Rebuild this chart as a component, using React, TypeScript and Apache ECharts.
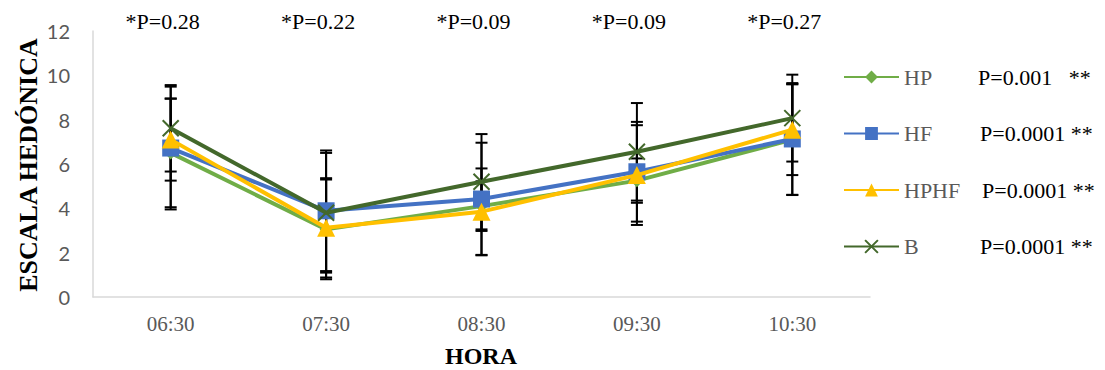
import React, { useEffect, useRef } from "react";
import * as echarts from "echarts";

const categories = ["06:30", "07:30", "08:30", "09:30", "10:30"];
const seriesNames = ["HP", "HF", "HPHF", "B"];
const hpValues = [6.5, 3.05, 4.1, 5.25, 7.1];
const hfValues = [6.72, 3.89, 4.42, 5.65, 7.13];
const hphfValues = [7.1, 3.12, 3.85, 5.5, 7.55];
const bValues = [7.61, 3.8, 5.2, 6.55, 8.07];
const hpErrors = [2.45, 2.25, 1.12, 1.0, 2.5];
const hfErrors = [2.77, 2.72, 2.54, 2.25, 2.52];
const hphfErrors = [1.85, 2.24, 1.95, 2.25, 2.05];
const bErrors = [1.95, 2.7, 2.15, 2.2, 1.96];
const topPLabels = ["*P=0.28", "*P=0.22", "*P=0.09", "*P=0.09", "*P=0.27"];
const legendPLabels = ["P=0.001   **", "P=0.0001 **", "P=0.0001 **", "P=0.0001 **"];
const yTicks = { min: 0, max: 12, interval: 2 };

const colors = ["#70ad47", "#4472c4", "#ffc000", "#43682b"];
const symbols = ["diamond", "rect", "triangle", "path://M0,0L10,10M10,0L0,10"];
const symbolSizes = [13, 17, 18, 16];
const SERIF = "'Liberation Serif', 'Times New Roman', serif";

export default function App() {
  const ref = useRef<HTMLDivElement>(null);
  useEffect(() => {
    if (!ref.current) return;
    const chart = echarts.init(ref.current, null, { renderer: "svg" });
    const values = [hpValues, hfValues, hphfValues, bValues];
    const errors = [hpErrors, hfErrors, hphfErrors, bErrors];

    const errSeries = values.map((vals, si) => ({
      type: "custom",
      name: "err" + si,
      z: 1,
      silent: true,
      data: vals.map((v, i) => [i, v - errors[si][i], v + errors[si][i]]),
      encode: { x: 0, y: [1, 2] },
      renderItem: (params: any, api: any) => {
        const x = api.value(0);
        const lo = api.coord([x, api.value(1)]);
        const hi = api.coord([x, api.value(2)]);
        const hw = 6;
        const st = { stroke: "#000", lineWidth: 2 };
        return {
          type: "group",
          children: [
            { type: "line", shape: { x1: lo[0], y1: lo[1], x2: hi[0], y2: hi[1] }, style: st },
            { type: "line", shape: { x1: lo[0] - hw, y1: lo[1], x2: lo[0] + hw, y2: lo[1] }, style: st },
            { type: "line", shape: { x1: hi[0] - hw, y1: hi[1], x2: hi[0] + hw, y2: hi[1] }, style: st },
          ],
        };
      },
    }));

    const lineSeries = values.map((vals, si) => ({
      type: "line",
      name: seriesNames[si],
      z: 3 + si,
      data: vals,
      symbol: symbols[si],
      symbolSize: symbolSizes[si],
      lineStyle: { color: colors[si], width: 4 },
      itemStyle: {
        color: si === 3 ? "rgba(0,0,0,0)" : colors[si],
        borderColor: colors[si],
        borderWidth: si === 3 ? 2 : 0,
      },
    }));

    const option: any = {
      animation: false,
      backgroundColor: "#fff",
      grid: { left: 93, right: 235, top: 31, bottom: 73 },
      xAxis: {
        type: "category",
        data: categories,
        boundaryGap: true,
        axisLine: { show: true, lineStyle: { color: "#d9d9d9", width: 1.5 } },
        axisTick: { show: false },
        axisLabel: { color: "#595959", fontFamily: SERIF, fontSize: 21, margin: 16 },
        splitLine: { show: false },
      },
      yAxis: {
        type: "value",
        min: yTicks.min,
        max: yTicks.max,
        interval: yTicks.interval,
        axisLine: { show: true, lineStyle: { color: "#d9d9d9", width: 1.5 } },
        axisTick: { show: false },
        splitLine: { show: false },
        axisLabel: { color: "#595959", fontFamily: "Lato, 'Open Sans', sans-serif", fontSize: 20, margin: 23 },
      },
      legend: {
        data: seriesNames,
        orient: "vertical",
        left: 843,
        top: 66,
        itemWidth: 55,
        itemHeight: 16,
        itemGap: 34.5,
        padding: 0,
        textStyle: { color: "#595959", fontFamily: SERIF, fontSize: 22, lineHeight: 22 },
      },
      series: [...errSeries, ...lineSeries],
    };
    chart.setOption(option);

    const graphics: any[] = [
      {
        type: "text",
        x: 28,
        y: 165,
        rotation: Math.PI / 2,
        style: {
          text: "ESCALA HEDÓNICA",
          font: `bold 26px ${SERIF}`,
          fill: "#000",
          align: "center",
          verticalAlign: "middle",
        },
      },
      {
        type: "text",
        x: 481,
        y: 356,
        style: { text: "HORA", font: `bold 24px ${SERIF}`, fill: "#000", align: "center", verticalAlign: "middle" },
      },
    ];
    topPLabels.forEach((t, i) => {
      const px = chart.convertToPixel({ xAxisIndex: 0 }, categories[i]) as number;
      graphics.push({
        type: "text",
        x: px - 8,
        y: 21,
        style: { text: t, font: `22px ${SERIF}`, fill: "#000", align: "center", verticalAlign: "middle" },
      });
    });
    const legendPx = [978, 980, 982, 980];
    const legendPy = [77, 133, 190, 246];
    legendPLabels.forEach((t, i) => {
      graphics.push({
        type: "text",
        x: legendPx[i],
        y: legendPy[i],
        z: 10,
        style: { text: t, font: `22px ${SERIF}`, fill: "#000", align: "left", verticalAlign: "middle", backgroundColor: "#fff" },
      });
    });
    chart.setOption({ graphic: graphics });

    return () => chart.dispose();
  }, []);
  return <div ref={ref} style={{ position: "absolute", left: 0, top: 0, width: 1105, height: 370 }} />;
}
